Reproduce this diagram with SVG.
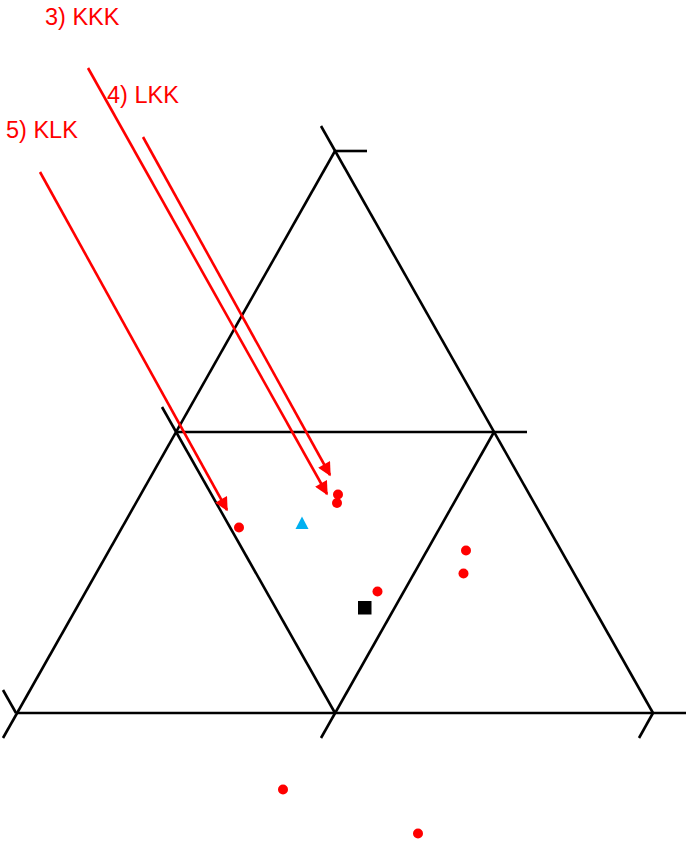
<svg xmlns="http://www.w3.org/2000/svg" width="687" height="841" viewBox="0 0 687 841">
<style>
.ax{stroke:#000;stroke-width:2.6;fill:none;stroke-linecap:butt}
.ar{stroke:#FF0000;stroke-width:2.6;fill:none}
.lbl{font-family:"Liberation Sans",Arial,sans-serif;font-size:23.5px;fill:#FF0000}
.pt{fill:#FF0000}
</style>
<defs>
<marker id="ah" viewBox="0 0 10 10" refX="9" refY="5" markerWidth="6" markerHeight="5.2" markerUnits="strokeWidth" orient="auto">
<path d="M0,0 L10,5 L0,10 Z" fill="#FF0000"/>
</marker>
</defs>
<rect width="687" height="841" fill="#fff"/>
<g id="axes">
<line class="ax" x1="3" y1="738" x2="335" y2="151"/>
<line class="ax" x1="321" y1="126" x2="653" y2="713"/>
<line class="ax" x1="16" y1="713" x2="686" y2="713"/>
<line class="ax" x1="335" y1="151" x2="367" y2="151"/>
<line class="ax" x1="3" y1="690" x2="16" y2="713"/>
<line class="ax" x1="653" y1="713" x2="639" y2="738"/>
<line class="ax" x1="176" y1="432" x2="527" y2="432"/>
<line class="ax" x1="162" y1="407" x2="335" y2="713"/>
<line class="ax" x1="494" y1="432" x2="321" y2="738"/>
</g>
<g id="labels">
<text class="lbl" x="45" y="25">3) KKK</text>
<text class="lbl" x="107" y="103">4) LKK</text>
<text class="lbl" x="6" y="138">5) KLK</text>
</g>
<g id="connectors">
<line class="ar" x1="88" y1="68" x2="327" y2="494" marker-end="url(#ah)"/>
<line class="ar" x1="143" y1="137" x2="330" y2="475" marker-end="url(#ah)"/>
<line class="ar" x1="40" y1="172" x2="227" y2="510" marker-end="url(#ah)"/>
</g>
<g id="points">
<circle class="pt" cx="239" cy="527.5" r="5"/>
<circle class="pt" cx="338" cy="494.5" r="5"/>
<circle class="pt" cx="337" cy="503" r="5"/>
<circle class="pt" cx="466" cy="550.5" r="5"/>
<circle class="pt" cx="463.5" cy="573.5" r="5"/>
<circle class="pt" cx="377.5" cy="591.5" r="5"/>
<circle class="pt" cx="283" cy="789.5" r="5"/>
<circle class="pt" cx="418" cy="833.5" r="5"/>
<rect x="358" y="601" width="13.5" height="13.5" fill="#000"/>
<path d="M302,516.5 L308.5,529 L295.5,529 Z" fill="#00B0F0"/>
</g>
</svg>
